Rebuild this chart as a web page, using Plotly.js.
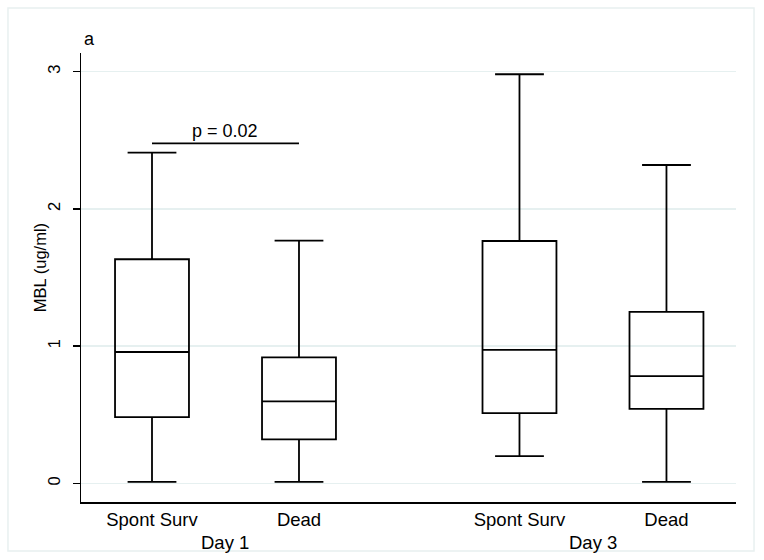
<!DOCTYPE html>
<html>
<head>
<meta charset="utf-8">
<script src="https://cdn.plot.ly/plotly-3.0.1.min.js"></script>
<style>html,body{margin:0;padding:0;background:#fff;}#chart{width:764px;height:560px;}</style>
</head>
<body>
<div id="chart"></div>
<script>
// Data
const groupLabels = ["Spont Surv", "Dead", "Spont Surv", "Dead"];
const groupPos = [1, 2, 3.5, 4.5];
const dayLabels = ["Day 1", "Day 3"];
const dayPos = [1.5, 4.0];
const lowerWhisker = [0.01, 0.01, 0.199, 0.01];
const q1Vals = [0.483, 0.321, 0.512, 0.542];
const medianVals = [0.957, 0.598, 0.972, 0.782];
const q3Vals = [1.633, 0.918, 1.766, 1.249];
const upperWhisker = [2.41, 1.768, 2.981, 2.32];
const yTicks = [0, 1, 2, 3];
const yTitle = "MBL (ug/ml)";
const panelLabel = "a";
const pText = "p = 0.02";
const pLevel = 2.478;
const pTextLevel = 2.568;

const FONT = "Liberation Sans, Arial, sans-serif";

const trace = {
  type: "box",
  x: groupPos,
  q1: q1Vals,
  median: medianVals,
  q3: q3Vals,
  lowerfence: lowerWhisker,
  upperfence: upperWhisker,
  width: 0.503,
  whiskerwidth: 0.66,
  boxpoints: false,
  fillcolor: "rgba(255,255,255,0)",
  line: { color: "#000000", width: 1.8 },
  hoverinfo: "skip",
  showlegend: false
};

const annotations = [
  { text: panelLabel, xref: "paper", yref: "paper", x: 0.002, y: 1.031, xanchor: "left", yanchor: "middle",
    showarrow: false, font: { family: FONT, size: 18, color: "#000" } },
  { text: pText, xref: "x", yref: "y", x: (groupPos[0] + groupPos[1]) / 2, y: pTextLevel, yanchor: "middle",
    showarrow: false, font: { family: FONT, size: 18, color: "#000" } },
  { text: yTitle, xref: "paper", yref: "paper", x: -0.0626, y: 0.523, xanchor: "center", yanchor: "middle",
    textangle: -90, showarrow: false, font: { family: FONT, size: 16.5, color: "#000" } }
];
dayLabels.forEach((d, i) => {
  annotations.push({ text: d, xref: "x", yref: "paper", x: dayPos[i], y: -0.062, yanchor: "top",
    showarrow: false, font: { family: FONT, size: 18.5, color: "#000" } });
});

const layout = {
  width: 764, height: 560,
  margin: { l: 81, r: 28, t: 53, b: 58 },
  paper_bgcolor: "#ffffff",
  plot_bgcolor: "#ffffff",
  font: { family: FONT, size: 16, color: "#000" },
  xaxis: {
    range: [0.517, 4.973],
    tickvals: groupPos,
    ticktext: groupLabels,
    ticks: "",
    showgrid: false,
    zeroline: false,
    showline: true,
    linecolor: "#000",
    linewidth: 1.5,
    tickfont: { family: FONT, size: 18.5, color: "#000" },
    fixedrange: true
  },
  yaxis: {
    range: [-0.136, 3.136],
    tickvals: yTicks,
    ticktext: yTicks.map(String),
    ticks: "outside",
    ticklen: 7,
    tickwidth: 1.3,
    tickcolor: "#000",
    tickangle: -90,
    ticklabelstandoff: 6,
    showgrid: true,
    gridcolor: "#e6f0f0",
    gridwidth: 1.5,
    zeroline: false,
    showline: true,
    linecolor: "#000",
    linewidth: 1.5,
    tickfont: { family: FONT, size: 16.5, color: "#000" },
    fixedrange: true
  },
  shapes: [
    { type: "line", xref: "x", yref: "y", x0: groupPos[0], x1: groupPos[1], y0: pLevel, y1: pLevel,
      line: { color: "#000", width: 1.8 } },
    { type: "rect", xref: "paper", yref: "paper", x0: -0.1115, x1: 1.0275, y0: -0.1091, y1: 1.1002,
      line: { color: "#e8f0f0", width: 1.5 }, fillcolor: "rgba(0,0,0,0)", layer: "below" }
  ],
  annotations: annotations
};

Plotly.newPlot("chart", [trace], layout, { displayModeBar: false, staticPlot: true });
</script>
</body>
</html>
